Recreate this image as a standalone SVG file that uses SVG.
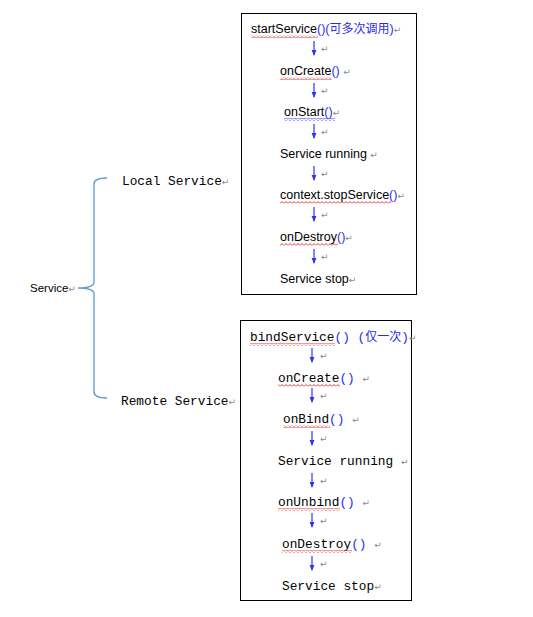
<svg xmlns="http://www.w3.org/2000/svg" width="533" height="617" viewBox="0 0 533 617">
<style>
.sans{font-family:"Liberation Sans",Arial,sans-serif;font-size:12.5px;fill:#000}
.mono{font-family:"Liberation Mono","Courier New",monospace;font-size:12.8px;fill:#000}
.blue{fill:#2b2bf0}
.cjk{font-family:"Noto Sans CJK SC",sans-serif;font-size:12px}
.pm{font-family:"DejaVu Sans",sans-serif;font-size:9px;fill:#8a8a8a}
.box{fill:none;stroke:#000;stroke-width:1}
.arr{stroke:#3333ee;stroke-width:1.2;fill:none}
.brace{stroke:#5b9bd5;stroke-width:1.3;fill:none}
</style>
<defs>
<marker id="ah" viewBox="0 0 6 6" refX="5" refY="3" markerWidth="6" markerHeight="6" orient="auto" markerUnits="userSpaceOnUse"><path d="M0,0.6 L6,3 L0,5.4z" fill="#3333ee"/></marker>
<pattern id="wr" width="4" height="3" patternUnits="userSpaceOnUse"><path d="M0,2.5 L2,0.5 L4,2.5" fill="none" stroke="#e02020" stroke-width="0.9"/></pattern>
<pattern id="wb" width="4" height="3" patternUnits="userSpaceOnUse"><path d="M0,2.5 L2,0.5 L4,2.5" fill="none" stroke="#2b2bf0" stroke-width="0.9"/></pattern>
</defs>
<rect width="533" height="617" fill="#fff"/>

<g id="service">
<text x="30" y="292" font-family="'Liberation Sans',Arial,sans-serif" font-size="11.5px">Service<tspan class="pm">↵</tspan></text>
</g>
<g id="local-service">
<text class="mono" x="122" y="185">Local Service<tspan class="pm">↵</tspan></text>
</g>
<g id="remote-service">
<text class="mono" x="121" y="405">Remote Service<tspan class="pm">↵</tspan></text>
</g>

<g id="local-box">
<rect class="box" x="241.5" y="13.5" width="175" height="281"/>
<text class="sans" x="251" y="33">startService<tspan class="blue">()(</tspan><tspan class="blue cjk">可多次调用</tspan><tspan class="blue">)</tspan><tspan class="pm">↵</tspan></text>
<rect x="251" y="35" width="67" height="3" fill="url(#wr)"/>
<text class="pm" x="321" y="52">↵</text>
<text class="sans" x="280" y="75">onCreate<tspan class="blue">()</tspan> <tspan class="pm">↵</tspan></text>
<rect x="280" y="77" width="52" height="3" fill="url(#wr)"/>
<text class="pm" x="321" y="94">↵</text>
<text class="sans" x="284" y="116">onStart<tspan class="blue">()</tspan><tspan class="pm">↵</tspan></text>
<rect x="284" y="118" width="51" height="3" fill="url(#wb)"/>
<text class="pm" x="321" y="135">↵</text>
<text class="sans" x="280" y="158">Service running <tspan class="pm">↵</tspan></text>
<text class="pm" x="321" y="177">↵</text>
<text class="sans" x="280" y="199">context.stopService<tspan class="blue">()</tspan><tspan class="pm">↵</tspan></text>
<rect x="280" y="201" width="111" height="3" fill="url(#wr)"/>
<text class="pm" x="321" y="218">↵</text>
<text class="sans" x="280" y="241">onDestroy<tspan class="blue">()</tspan><tspan class="pm">↵</tspan></text>
<rect x="280" y="243" width="58" height="3" fill="url(#wr)"/>
<text class="pm" x="321" y="260">↵</text>
<text class="sans" x="280" y="283">Service stop<tspan class="pm">↵</tspan></text>
</g>

<g id="remote-box">
<rect class="box" x="240.5" y="320.5" width="171" height="280"/>
<text class="mono" x="250" y="341">bindService<tspan class="blue">() (</tspan><tspan class="blue cjk">仅一次</tspan><tspan class="blue">)</tspan><tspan class="pm">↵</tspan></text>
<rect x="250" y="343" width="85" height="3" fill="url(#wr)"/>
<text class="pm" x="320" y="359">↵</text>
<text class="mono" x="278" y="382">onCreate<tspan class="blue">()</tspan> <tspan class="pm">↵</tspan></text>
<rect x="278" y="384" width="62" height="3" fill="url(#wr)"/>
<text class="pm" x="320" y="399">↵</text>
<text class="mono" x="283" y="423">onBind<tspan class="blue">()</tspan> <tspan class="pm">↵</tspan></text>
<rect x="283" y="425" width="47" height="3" fill="url(#wr)"/>
<text class="pm" x="320" y="442">↵</text>
<text class="mono" x="278" y="465">Service running <tspan class="pm">↵</tspan></text>
<text class="pm" x="320" y="484">↵</text>
<text class="mono" x="278" y="506">onUnbind<tspan class="blue">()</tspan> <tspan class="pm">↵</tspan></text>
<rect x="278" y="508" width="62" height="3" fill="url(#wr)"/>
<text class="pm" x="320" y="524">↵</text>
<text class="mono" x="282" y="548">onDestroy<tspan class="blue">()</tspan>  <tspan class="pm">↵</tspan></text>
<rect x="282" y="550" width="70" height="3" fill="url(#wr)"/>
<text class="pm" x="320" y="567">↵</text>
<text class="mono" x="282" y="590">Service stop<tspan class="pm">↵</tspan></text>
</g>

<g id="connectors">
<path class="brace" d="M107,178 Q94,178 94,184 L94,282 Q94,288 78,288 Q94,288 94,294 L94,392 Q94,398 107,398"/>
<line class="arr" x1="314" y1="41" x2="314" y2="55" marker-end="url(#ah)"/>
<line class="arr" x1="314" y1="83" x2="314" y2="97" marker-end="url(#ah)"/>
<line class="arr" x1="314" y1="124" x2="314" y2="138" marker-end="url(#ah)"/>
<line class="arr" x1="314" y1="166" x2="314" y2="180" marker-end="url(#ah)"/>
<line class="arr" x1="314" y1="207" x2="314" y2="221" marker-end="url(#ah)"/>
<line class="arr" x1="314" y1="249" x2="314" y2="263" marker-end="url(#ah)"/>
<line class="arr" x1="312" y1="348" x2="312" y2="362" marker-end="url(#ah)"/>
<line class="arr" x1="312" y1="388" x2="312" y2="402" marker-end="url(#ah)"/>
<line class="arr" x1="312" y1="431" x2="312" y2="445" marker-end="url(#ah)"/>
<line class="arr" x1="312" y1="473" x2="312" y2="487" marker-end="url(#ah)"/>
<line class="arr" x1="312" y1="513" x2="312" y2="527" marker-end="url(#ah)"/>
<line class="arr" x1="312" y1="556" x2="312" y2="570" marker-end="url(#ah)"/>
</g>
</svg>
